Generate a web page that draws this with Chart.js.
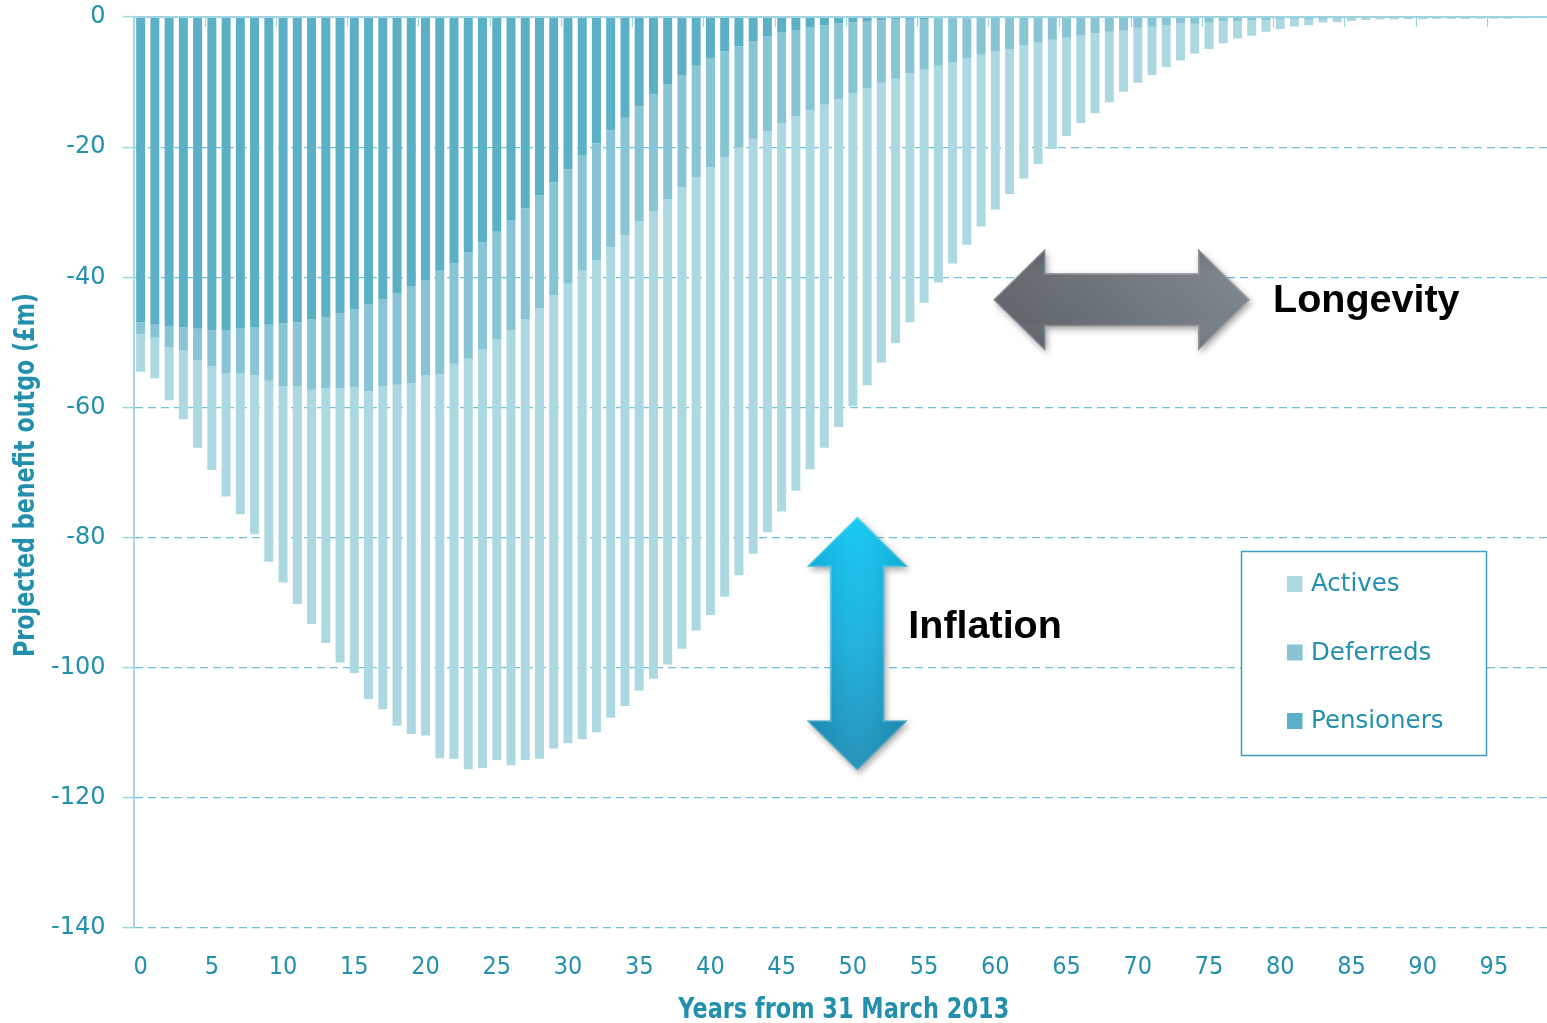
<!DOCTYPE html>
<html>
<head>
<meta charset="utf-8">
<script src="https://cdn.jsdelivr.net/npm/chart.js@4.4.1/dist/chart.umd.min.js"></script>
<style>
html,body{margin:0;padding:0;background:#fff;overflow:hidden;width:1547px;height:1023px;}
#wrap{position:absolute;left:0;top:0;width:1560px;height:1023px;}
canvas{display:block;}
</style>
</head>
<body>
<div id="wrap"><canvas id="c" width="1560" height="1023"></canvas></div>
<script>
// ---- categories (years from 31 March 2013) ----
const years = ['0','1','2','3','4','5','6','7','8','9','10','11','12','13','14','15','16','17','18','19',
'20','21','22','23','24','25','26','27','28','29','30','31','32','33','34','35','36','37','38','39',
'40','41','42','43','44','45','46','47','48','49','50','51','52','53','54','55','56','57','58','59',
'60','61','62','63','64','65','66','67','68','69','70','71','72','73','74','75','76','77','78','79',
'80','81','82','83','84','85','86','87','88','89','90','91','92','93','94','95','96','97','98','99'];

// ---- series values (£m, projected benefit outgo) ----
const pensioners = [-46.9,-47.3,-47.5,-47.7,-47.9,-48.1,-48.1,-47.9,-47.7,-47.3,
-47.1,-46.9,-46.5,-46.1,-45.5,-44.9,-44.2,-43.4,-42.4,-41.4,
-40.5,-39.0,-37.9,-36.2,-34.6,-33.0,-31.2,-29.4,-27.4,-25.4,
-23.4,-21.3,-19.4,-17.4,-15.5,-13.7,-11.9,-10.3,-8.9,-7.5,
-6.3,-5.3,-4.5,-3.7,-3.0,-2.4,-2.0,-1.6,-1.3,-1.0,
-0.8,-0.6,-0.5,-0.4,-0.3,-0.3,-0.2,-0.2,-0.2,-0.15,
-0.15,-0.1,-0.1,-0.1,-0.1,-0.1,-0.05,-0.05,-0.05,-0.05,
-0.05,-0.05,0,0,0,0,0,0,0,0,
0,0,0,0,0,0,0,0,0,0,
0,0,0,0,0,0,0,0,0,0];

const deferreds = [-1.8,-2.0,-3.2,-3.6,-4.8,-5.6,-6.6,-6.8,-7.4,-8.6,
-9.6,-9.8,-10.8,-10.9,-11.6,-12.0,-13.3,-13.3,-14.1,-14.9,
-14.6,-15.9,-15.4,-16.3,-16.5,-16.5,-16.9,-17.1,-17.4,-17.4,
-17.6,-17.7,-18.0,-18.0,-18.0,-17.7,-17.9,-17.7,-17.3,-17.1,
-16.8,-16.2,-15.5,-15.0,-14.5,-13.9,-13.3,-12.7,-12.2,-11.6,
-10.9,-10.3,-9.6,-9.1,-8.4,-7.8,-7.3,-6.7,-6.1,-5.65,
-5.15,-4.8,-4.2,-3.8,-3.4,-3.1,-2.85,-2.45,-2.2,-2.05,
-1.6,-1.45,-1.3,-1.0,-1.05,-0.9,-0.7,-0.65,-0.5,-0.45,
-0.4,-0.35,-0.3,-0.3,-0.25,-0.25,-0.2,-0.2,-0.2,-0.15,
-0.15,-0.15,-0.15,-0.15,-0.1,-0.1,-0.1,-0.1,-0.1,-0.1];

const actives = [-5.8,-6.2,-8.2,-10.5,-13.5,-15.9,-19.0,-21.7,-24.4,-27.8,
-30.2,-33.5,-36.0,-39.2,-42.1,-43.9,-47.3,-49.7,-52.4,-53.9,
-55.3,-59.0,-60.7,-63.1,-64.3,-64.7,-66.9,-67.7,-69.2,-69.6,
-70.6,-72.0,-72.5,-72.3,-72.4,-72.1,-71.9,-71.5,-70.9,-69.7,
-68.8,-67.6,-65.8,-63.8,-61.7,-59.7,-57.5,-55.2,-52.7,-50.4,
-48.1,-45.7,-43.0,-40.6,-38.2,-35.8,-33.3,-31.0,-28.7,-26.4,
-24.3,-22.3,-20.5,-18.7,-16.8,-15.1,-13.4,-12.3,-10.85,-9.4,
-8.45,-7.4,-6.4,-5.7,-4.55,-4.0,-3.35,-2.65,-2.4,-1.8,
-1.45,-1.1,-0.95,-0.55,-0.55,-0.35,-0.25,-0.2,-0.2,-0.2,
-0.2,-0.15,-0.15,-0.15,-0.15,-0.15,-0.15,-0.1,-0.1,-0.1];

// ---- tick labels ----
const yTickValues = [0,-20,-40,-60,-80,-100,-120,-140];
const xTickLabels = ['0','5','10','15','20','25','30','35','40','45','50','55','60','65','70','75','80','85','90','95'];
const legendNames = ['Actives','Deferreds','Pensioners'];
const xTitle = 'Years from 31 March 2013';
const yTitle = 'Projected benefit outgo (£m)';

// ---- annotations (anchored in data units) ----
const longevityArrow = {from: 59.86, to: 77.88, at: -43.45, label: 'Longevity'};
const inflationArrow = {at: 50.31, from: -76.8, to: -115.8, label: 'Inflation'};

const TEAL = '#2290ad';
const COL = {Pensioners:'#5bb0c6', Deferreds:'#87c5d5', Actives:'#acd8e2'};

function hArrowPath(ctx, x1, x2, yc, hh, sh, hl){
  ctx.beginPath();
  ctx.moveTo(x1, yc);
  ctx.lineTo(x1+hl, yc-hh); ctx.lineTo(x1+hl, yc-sh);
  ctx.lineTo(x2-hl, yc-sh); ctx.lineTo(x2-hl, yc-hh);
  ctx.lineTo(x2, yc);
  ctx.lineTo(x2-hl, yc+hh); ctx.lineTo(x2-hl, yc+sh);
  ctx.lineTo(x1+hl, yc+sh); ctx.lineTo(x1+hl, yc+hh);
  ctx.closePath();
}
function vArrowPath(ctx, xc, y1, y2, hh, sh, hl){
  ctx.beginPath();
  ctx.moveTo(xc, y1);
  ctx.lineTo(xc+hh, y1+hl); ctx.lineTo(xc+sh, y1+hl);
  ctx.lineTo(xc+sh, y2-hl); ctx.lineTo(xc+hh, y2-hl);
  ctx.lineTo(xc, y2);
  ctx.lineTo(xc-hh, y2-hl); ctx.lineTo(xc-sh, y2-hl);
  ctx.lineTo(xc-sh, y1+hl); ctx.lineTo(xc-hh, y1+hl);
  ctx.closePath();
}
// condensed text: draw text compressed along its direction to a target length
function condensedText(ctx, text, cx, cy, angle, targetLen){
  ctx.save();
  ctx.translate(cx, cy);
  ctx.rotate(angle);
  const w = ctx.measureText(text).width;
  ctx.scale(targetLen / w, 1);
  ctx.textAlign = 'center';
  ctx.textBaseline = 'middle';
  ctx.fillText(text, 0, 0);
  ctx.restore();
}

const deco = {
  id: 'deco',
  afterDatasetsDraw(chart){
    const {ctx, chartArea: a, scales: {x, y}} = chart;
    const y0 = y.getPixelForValue(0);
    ctx.save();
    ctx.strokeStyle = '#9fd3df';
    ctx.lineWidth = 2;
    ctx.beginPath(); ctx.moveTo(a.left, y0); ctx.lineTo(a.right, y0); ctx.stroke();
    ctx.lineWidth = 1.2;
    ctx.beginPath();
    for (let i = 5; i < years.length; i += 5){
      const px = Math.round((x.getPixelForValue(i-1) + x.getPixelForValue(i)) / 2) + 0.5;
      ctx.moveTo(px, y0); ctx.lineTo(px, y0 + 10);
    }
    ctx.stroke();
    ctx.restore();
  },
  afterDraw(chart){
    const {ctx, chartArea: a, scales: {x, y}} = chart;
    ctx.save();
    // axis titles (condensed bold)
    ctx.fillStyle = TEAL;
    ctx.font = 'bold 29px "DejaVu Sans", sans-serif';
    condensedText(ctx, xTitle, (a.left + a.right) / 2 - 2, 1010, 0, 331);
    ctx.font = 'bold 28px "DejaVu Sans", sans-serif';
    condensedText(ctx, yTitle, 27, 475, -Math.PI / 2, 364);

    // Longevity arrow
    const lx1 = x.getPixelForValue(longevityArrow.from), lx2 = x.getPixelForValue(longevityArrow.to);
    const ly = y.getPixelForValue(longevityArrow.at);
    ctx.save();
    ctx.shadowColor = 'rgba(0,0,0,0.35)'; ctx.shadowBlur = 6; ctx.shadowOffsetX = 2; ctx.shadowOffsetY = 3;
    hArrowPath(ctx, lx1, lx2, ly, 51, 26.5, 52);
    const g1 = ctx.createLinearGradient(lx1, 0, lx2, 0);
    g1.addColorStop(0, '#5d6369'); g1.addColorStop(0.5, '#6c7379'); g1.addColorStop(1, '#7c838a');
    ctx.fillStyle = g1; ctx.fill();
    ctx.restore();
    ctx.save();
    hArrowPath(ctx, lx1, lx2, ly, 51, 26.5, 52);
    ctx.clip();
    const g1v = ctx.createLinearGradient(0, ly-51, 0, ly+51);
    g1v.addColorStop(0, 'rgba(0,0,0,0.10)'); g1v.addColorStop(0.3, 'rgba(255,255,255,0.04)');
    g1v.addColorStop(0.7, 'rgba(255,255,255,0.0)'); g1v.addColorStop(1, 'rgba(0,0,0,0.12)');
    ctx.fillStyle = g1v; ctx.fillRect(lx1, ly-52, lx2-lx1, 104);
    ctx.strokeStyle = 'rgba(255,255,255,0.2)'; ctx.lineWidth = 3;
    hArrowPath(ctx, lx1, lx2, ly, 51, 26.5, 52); ctx.stroke();
    ctx.restore();
    ctx.fillStyle = '#000';
    ctx.font = 'bold 39.5px "Liberation Sans", Arial, sans-serif';
    ctx.textBaseline = 'alphabetic'; ctx.textAlign = 'left';
    ctx.fillText(longevityArrow.label, lx2 + 23, ly + 12);

    // Inflation arrow
    const ix = x.getPixelForValue(inflationArrow.at);
    const iy1 = y.getPixelForValue(inflationArrow.from), iy2 = y.getPixelForValue(inflationArrow.to);
    ctx.save();
    ctx.shadowColor = 'rgba(0,0,0,0.35)'; ctx.shadowBlur = 6; ctx.shadowOffsetX = 2; ctx.shadowOffsetY = 3;
    vArrowPath(ctx, ix, iy1, iy2, 50.5, 27, 50);
    const g2 = ctx.createLinearGradient(0, iy1, 0, iy2);
    g2.addColorStop(0, '#0bc7f4'); g2.addColorStop(0.5, '#16aedd'); g2.addColorStop(1, '#1b8cb5');
    ctx.fillStyle = g2; ctx.fill();
    ctx.restore();
    ctx.save();
    vArrowPath(ctx, ix, iy1, iy2, 50.5, 27, 50);
    ctx.clip();
    const g2h = ctx.createLinearGradient(ix-50, 0, ix+50, 0);
    g2h.addColorStop(0, 'rgba(0,0,0,0.10)'); g2h.addColorStop(0.5, 'rgba(255,255,255,0.06)'); g2h.addColorStop(1, 'rgba(0,0,0,0.12)');
    ctx.fillStyle = g2h; ctx.fillRect(ix-51, iy1, 102, iy2-iy1);
    ctx.strokeStyle = 'rgba(255,255,255,0.2)'; ctx.lineWidth = 3;
    vArrowPath(ctx, ix, iy1, iy2, 50.5, 27, 50); ctx.stroke();
    ctx.restore();
    ctx.fillStyle = '#000';
    ctx.font = 'bold 39.5px "Liberation Sans", Arial, sans-serif';
    ctx.textBaseline = 'alphabetic'; ctx.textAlign = 'left';
    ctx.fillText(inflationArrow.label, ix + 51, (iy1 + iy2) / 2 - 6);

    // Legend box
    const bx = 1241, by = 551, bw = 245, bh = 204;
    ctx.fillStyle = '#fff';
    ctx.fillRect(bx, by, bw, bh);
    ctx.strokeStyle = '#3aa0ba'; ctx.lineWidth = 1.5;
    ctx.strokeRect(bx + 0.5, by + 0.5, bw, bh);
    ctx.font = '24.5px "DejaVu Sans", sans-serif';
    ctx.textBaseline = 'middle'; ctx.textAlign = 'left';
    legendNames.forEach((name, i) => {
      const cy = by + 33 + i * 68.5;
      ctx.fillStyle = COL[name];
      ctx.fillRect(bx + 46, cy - 8, 15.5, 16);
      ctx.fillStyle = TEAL;
      ctx.fillText(name, bx + 70, cy + 1);
    });
    ctx.restore();
  }
};

new Chart(document.getElementById('c'), {
  type: 'bar',
  data: {
    labels: years,
    datasets: [
      {label: 'Pensioners', data: pensioners, backgroundColor: COL.Pensioners, stack: 's'},
      {label: 'Deferreds', data: deferreds, backgroundColor: COL.Deferreds, stack: 's'},
      {label: 'Actives', data: actives, backgroundColor: COL.Actives, stack: 's'}
    ]
  },
  options: {
    responsive: false,
    animation: false,
    devicePixelRatio: 1,
    datasets: {bar: {barPercentage: 0.63, categoryPercentage: 1.0, borderWidth: 0}},
    layout: {padding: {top: 17, right: 2, left: 0, bottom: 0}},
    plugins: {legend: {display: false}, tooltip: {enabled: false}},
    scales: {
      x: {
        stacked: true,
        afterFit: s => { s.height = 95; s.paddingLeft = 0; s.paddingRight = 0; },
        grid: {display: false, drawTicks: false},
        border: {display: false},
        ticks: {
          autoSkip: false, maxRotation: 0, minRotation: 0,
          color: TEAL, padding: 24,
          font: {family: '"DejaVu Sans Condensed", "DejaVu Sans", sans-serif', size: 25},
          callback: function(v, i){ return xTickLabels.includes(years[i]) ? years[i] : ''; }
        },
        title: {display: false}
      },
      y: {
        stacked: true, min: -140, max: 0,
        afterBuildTicks: s => { s.ticks = yTickValues.map(v => ({value: v})); },
        afterFit: s => { s.width = 133.5; s.paddingTop = 0; s.paddingBottom = 0; },
        border: {display: true, color: '#a3d6e2', width: 2, dash: [8, 5]},
        grid: {color: '#6fc2d6', lineWidth: 1.2, drawTicks: true, tickLength: 11, tickColor: '#a3d6e2', tickWidth: 1.5, tickBorderDash: []},
        ticks: {color: TEAL, padding: 17, font: {family: '"DejaVu Sans", sans-serif', size: 24}},
        title: {display: false}
      }
    }
  },
  plugins: [deco]
});
</script>
</body>
</html>
